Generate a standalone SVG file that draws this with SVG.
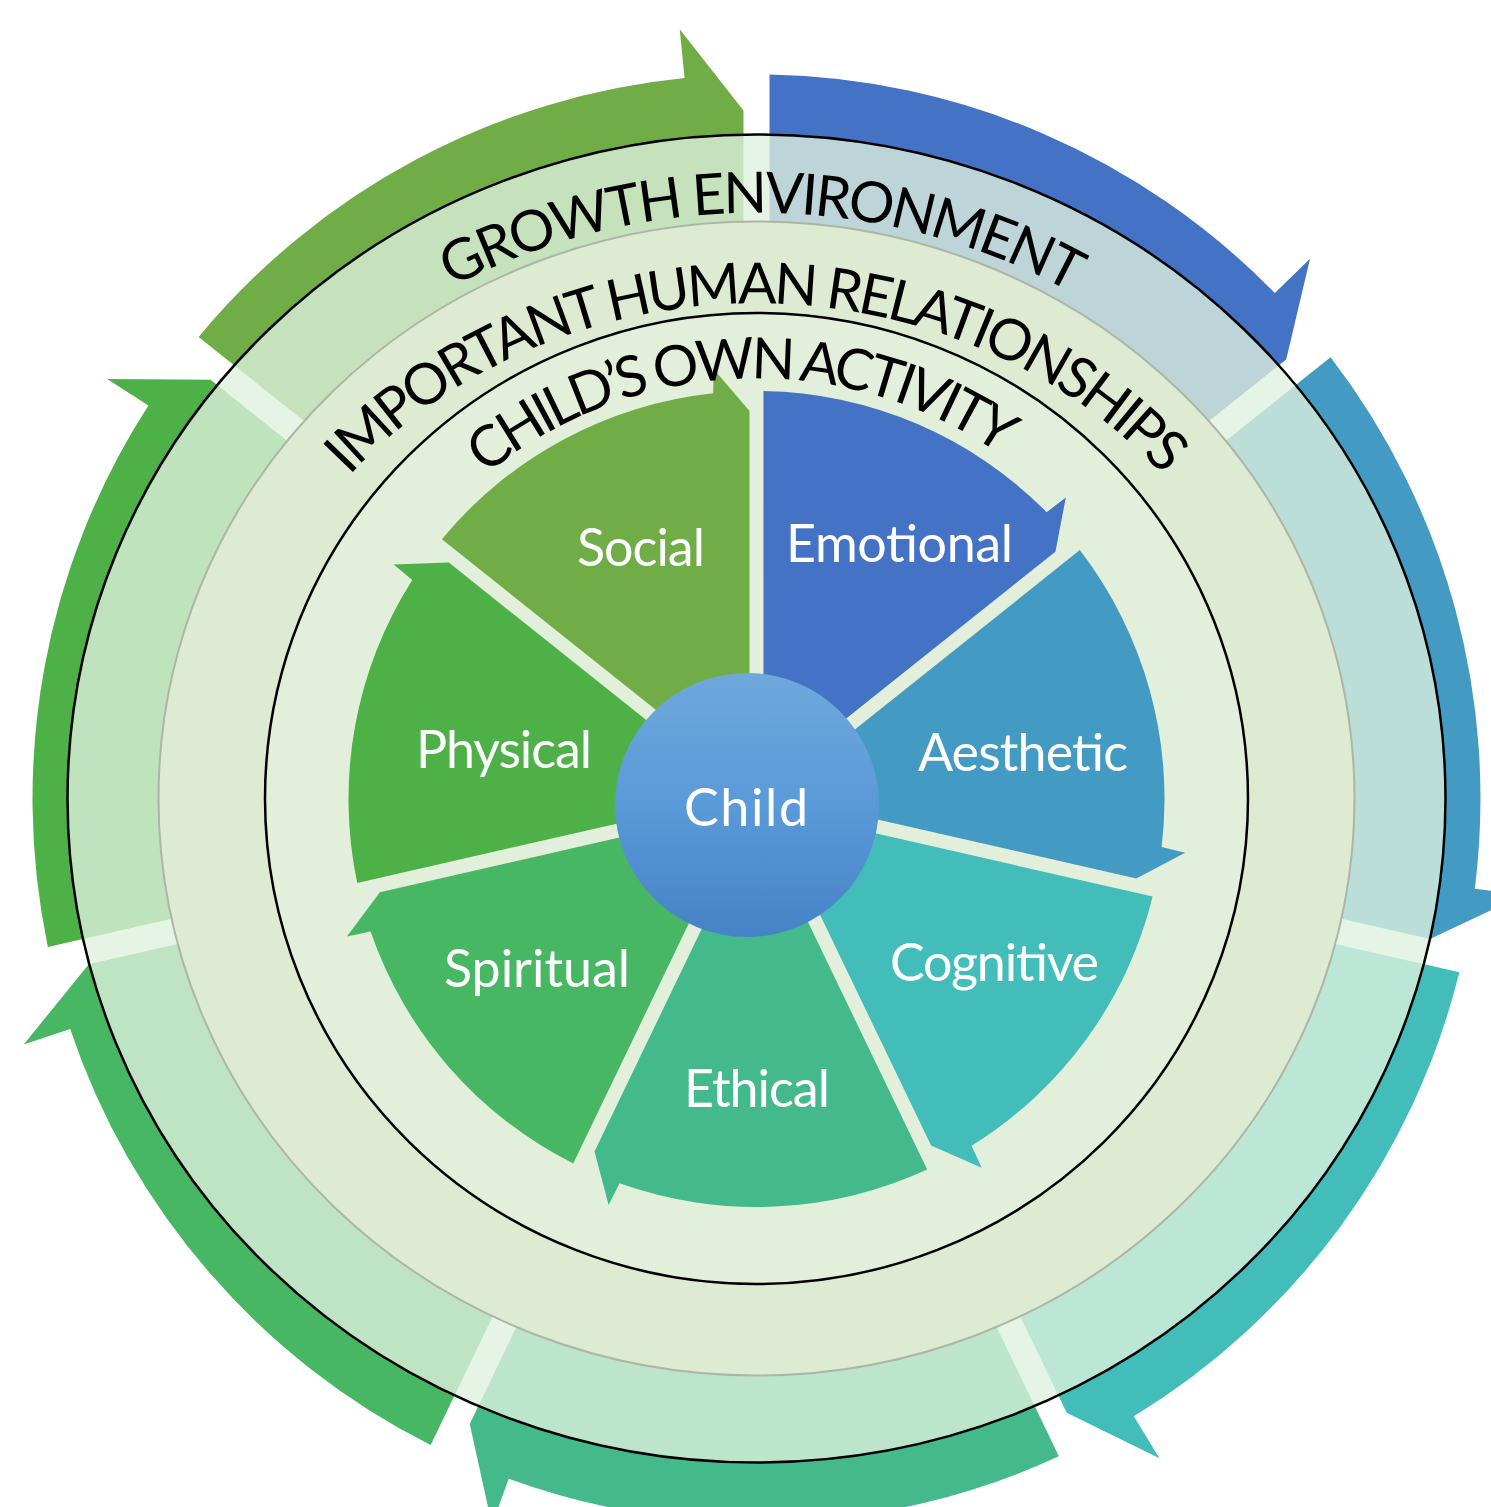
<svg xmlns="http://www.w3.org/2000/svg" xmlns:xlink="http://www.w3.org/1999/xlink" width="1491" height="1507" viewBox="0 0 1491 1507">
<style>
.lbl{font-family:Lato,"Open Sans","DejaVu Sans",sans-serif;fill:#fff;font-size:52px;text-anchor:middle}
.arc{font-family:Lato,"Open Sans","DejaVu Sans",sans-serif;fill:#000;font-size:57px;font-weight:400}
</style>
<defs>
<path id="oa" d="M -13,-559.85 L -13,-687.9 L -76.8,-769.2 L -71.9,-720.4 A 724 724 0 0 0 -557.85,-461.5 L -429.6,-359.2 A 560 560 0 0 1 -13,-559.85 Z"/>
<path id="pw" d="M -7,-14.53 L -314.6,-259.8 A 408 408 0 0 1 -43.35,-405.7 L -42.9,-429.9 L -7,-387.9 Z"/>
<linearGradient id="cg" x1="0" y1="0" x2="0" y2="1">
<stop offset="0" stop-color="#6FA8DC"/>
<stop offset="0.5" stop-color="#5A9AD8"/>
<stop offset="1" stop-color="#4582C6"/>
</linearGradient>
<path id="pG" d="M 131.5,798.5 A 625 586 0 0 1 1381.5,798.5"/>
<path id="pI" d="M 219.5,798.5 A 537 495 0 0 1 1293.5,798.5"/>
<path id="pC" d="M 331.5,798.5 A 425 420 0 0 1 1181.5,798.5"/>
</defs>
<rect width="1491" height="1507" fill="#fff"/>
<g id="connectors">
<g transform="translate(756.5 798.5)">
<use xlink:href="#oa" fill="#70AD47"/>
<use xlink:href="#oa" fill="#4472C4" transform="rotate(51.4286)"/>
<use xlink:href="#oa" fill="#439BC3" transform="rotate(102.8571)"/>
<use xlink:href="#oa" fill="#43BDB9" transform="rotate(154.2857)"/>
<use xlink:href="#oa" fill="#44B98B" transform="rotate(205.7143)"/>
<use xlink:href="#oa" fill="#48B764" transform="rotate(257.1429)"/>
<use xlink:href="#oa" fill="#4EB148" transform="rotate(308.5714)"/>
</g>
</g>
<g id="growth-environment">
<ellipse cx="756.5" cy="798.5" rx="689" ry="664" fill="#DFF1DE" fill-opacity="0.78"/>
<ellipse cx="756.5" cy="798.5" rx="689" ry="664" fill="none" stroke="#000" stroke-width="2.5"/>
</g>
<g id="human-relationships">
<ellipse cx="756.5" cy="798.5" rx="598" ry="577" fill="#DCEBD1" stroke="#AEB5A6" stroke-width="2"/>
</g>
<g id="own-activity">
<ellipse cx="756.5" cy="798.5" rx="491.5" ry="485.5" fill="#E2EFDA" stroke="#000" stroke-width="2.5"/>
</g>
<g transform="translate(756.5 799)">
<g id="social"><use xlink:href="#pw" fill="#70AD47"/></g>
<g id="emotional"><use xlink:href="#pw" fill="#4472C4" transform="rotate(51.4286)"/></g>
<g id="aesthetic"><use xlink:href="#pw" fill="#439BC3" transform="rotate(102.8571)"/></g>
<g id="cognitive"><use xlink:href="#pw" fill="#43BDB9" transform="rotate(154.2857)"/></g>
<g id="ethical"><use xlink:href="#pw" fill="#44B98B" transform="rotate(205.7143)"/></g>
<g id="spiritual"><use xlink:href="#pw" fill="#48B764" transform="rotate(257.1429)"/></g>
<g id="physical"><use xlink:href="#pw" fill="#4EB148" transform="rotate(308.5714)"/></g>
</g>
<g id="child">
<circle cx="747" cy="805" r="132" fill="url(#cg)"/>
<text class="lbl" x="746" y="826" font-size="58" textLength="124">Child</text>
</g>
<g id="labels">
<text class="lbl" x="641" y="566" textLength="128">Social</text>
<text class="lbl" x="899.5" y="562" textLength="227">Emotional</text>
<text class="lbl" x="1023" y="771" textLength="210">Aesthetic</text>
<text class="lbl" x="994.5" y="981" textLength="209">Cognitive</text>
<text class="lbl" x="757" y="1107" textLength="146">Ethical</text>
<text class="lbl" x="537" y="987" textLength="186">Spiritual</text>
<text class="lbl" x="504" y="768" textLength="176">Physical</text>
</g>
<g id="ring-titles">
<text class="arc"><textPath xlink:href="#pG" startOffset="50.3%" text-anchor="middle" textLength="645">GROWTH ENVIRONMENT</textPath></text>
<text class="arc"><textPath xlink:href="#pI" startOffset="50%" text-anchor="middle" textLength="909">IMPORTANT HUMAN RELATIONSHIPS</textPath></text>
<text class="arc"><textPath xlink:href="#pC" startOffset="647" text-anchor="middle" textLength="553">CHILD’S OWN ACTIVITY</textPath></text>
</g>
</svg>
